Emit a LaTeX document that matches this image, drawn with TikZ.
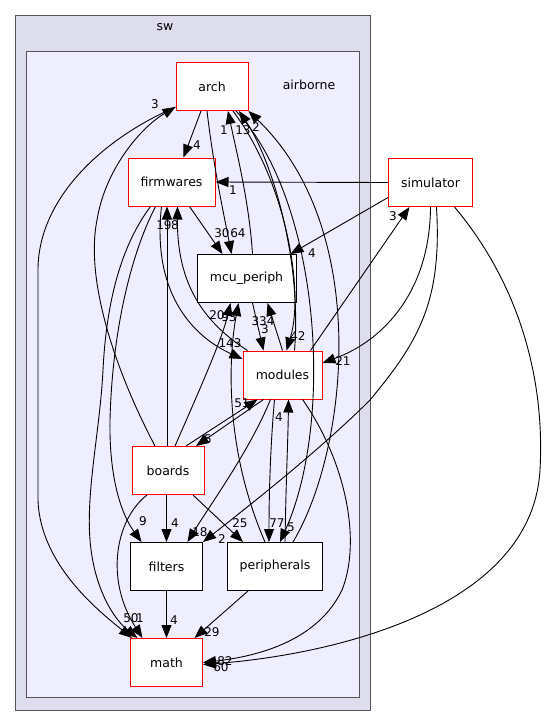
\documentclass[tikz,border=0pt]{standalone}
\usepackage{fontspec}
\setmainfont{DejaVu Sans}
\usetikzlibrary{arrows.meta}
\definecolor{swfill}{HTML}{DDDDEE}
\definecolor{abfill}{HTML}{EEEEFF}
\definecolor{swline}{HTML}{555555}
\begin{document}
\begin{tikzpicture}[x=1pt,y=-1pt,
  dirbox/.style={draw=black,fill=white,line width=1pt,minimum width=#1,minimum height=48pt,inner sep=0pt,font=\fontsize{12.5}{14}\selectfont},
  rdirbox/.style={dirbox=#1,draw=red},
  lbl/.style={font=\fontsize{12}{13}\selectfont,inner sep=0pt},
  clab/.style={font=\fontsize{12.5}{14}\selectfont,inner sep=0pt},
  dep/.style={line width=0.9pt,-{Triangle[length=13pt,width=10pt]}},
]
\useasboundingbox (0,0) rectangle (544,724);
\fill[white] (0,0) rectangle (544,724);
% clusters
\draw[fill=swfill,draw=swline,line width=1pt] (15.5,15.5) rectangle (370.5,710);
\node[clab] (swlab) at (165,27) {sw};
\draw[fill=abfill,draw=swline,line width=1pt] (26.5,51.5) rectangle (359.5,697);
\node[clab] (ablab) at (309,85) {airborne};
% nodes
\node[rdirbox=72pt] (arch) at (212,86.5) {arch};
\node[rdirbox=87pt] (firmwares) at (171.5,182) {firmwares};
\node[dirbox=99pt] (mcu) at (246.5,278.5) {mcu\_periph};
\node[rdirbox=79pt] (modules) at (282.5,375) {modules};
\node[rdirbox=72pt] (boards) at (168,470.5) {boards};
\node[dirbox=72pt] (filters) at (166.5,566.5) {filters};
\node[dirbox=95pt] (periph) at (275,566.5) {peripherals};
\node[rdirbox=72pt] (math) at (166.5,662.5) {math};
\node[rdirbox=84pt] (sim) at (430.5,182.5) {simulator};
% edges
\draw[dep] ([xshift=-11pt]arch.south) -- ([xshift=12pt]firmwares.north);
\node[lbl] (l1) at (197,145) {4};
\draw[dep] ([xshift=18pt]firmwares.south) -- ([xshift=-24pt]mcu.north);
\node[lbl] (l2) at (222,233) {30};
\draw[dep] ([xshift=-5pt]arch.south) .. controls (214,170) and (224,215) .. ([xshift=-15pt]mcu.north);
\node[lbl] (l3) at (238,233) {64};
\draw[dep] ([xshift=6pt]mcu.north) .. controls (249,200) and (236,150) .. ([xshift=16pt]arch.south);
\node[lbl] (l4) at (224,130) {1};
\draw[dep] ([xshift=12pt]modules.north) .. controls (302,260) and (272,160) .. ([xshift=27pt]arch.south);
\node[lbl] (l5) at (243,130) {13};
\draw[dep] ([xshift=21pt]arch.south) .. controls (285,180) and (305,290) .. ([xshift=4pt]modules.north);
\node[lbl] (l6) at (298,336) {42};
\draw[dep] ([xshift=24pt]arch.south) .. controls (320,200) and (335,420) .. ([xshift=5pt]periph.north);
\node[lbl] (l7) at (291,527) {5};
\draw[dep] ([xshift=18pt]periph.north) .. controls (348,450) and (372,230) .. (arch.south east);
\node[lbl] (l8) at (256,127) {2};
\draw[dep] (sim.west) -- (firmwares.east);
\node[lbl] (l9) at (233,190) {1};
\draw[dep] ([yshift=-15pt]sim.west) -- ([xshift=44pt]mcu.north);
\node[lbl] (l10) at (312,253) {4};
\draw[dep] ([xshift=28pt]modules.north) -- ([xshift=-21pt]sim.south);
\node[lbl] (l11) at (393,216) {3};
\draw[dep] (sim.south) .. controls (430,290) and (385,340) .. ([yshift=12pt]modules.east);
\node[lbl] (l12) at (343,361) {21};
\draw[dep] ([xshift=6pt]sim.south) .. controls (442,300) and (420,340) .. (370,400) .. controls (320,450) and (250,505) .. (filters.north east);
\node[lbl] (l13) at (222,539) {2};
\draw[dep] ([xshift=24pt]sim.south) .. controls (520,285) and (545,380) .. (540,470) .. controls (532,610) and (330,655) .. ([yshift=-2pt]math.east);
\node[lbl] (l14) at (225,661) {82};
\draw[dep] ([xshift=20pt]modules.south) .. controls (345,460) and (362,540) .. (342,590) .. controls (318,640) and (260,656) .. (math.east);
\node[lbl] (l15) at (221,667) {60};
\draw[dep] ([yshift=4pt]arch.south west) .. controls (100,140) and (38,200) .. (38,270) -- (38,500) .. controls (40,565) and (100,612) .. ([xshift=-34.5pt]math.north);
\node[lbl] (l16) at (131,618) {50};
\draw[dep] ([xshift=-13pt]boards.north) .. controls (115,370) and (85,280) .. (97,220) .. controls (105,170) and (140,128) .. ([yshift=4pt]arch.south west);
\node[lbl] (l17) at (155,104) {3};
\draw[dep] ([xshift=-21pt]firmwares.south) .. controls (118,250) and (106,310) .. (103,370) .. controls (100,430) and (86,490) .. (90,540) .. controls (94,590) and (115,620) .. ([xshift=-29pt]math.north);
\node[lbl] (l18) at (140,618) {1};
\draw[dep] ([xshift=-16pt]firmwares.south) .. controls (128,260) and (112,340) .. (110,420) .. controls (109,480) and (122,515) .. ([xshift=-25pt]filters.north);
\node[lbl] (l19) at (143,521) {9};
\draw[dep] ([xshift=-10pt]firmwares.south) .. controls (152,290) and (190,335) .. ([yshift=16pt]modules.west);
\node[lbl] (l20) at (230,343) {143};
\draw[dep] ([xshift=-35pt]modules.north) .. controls (200,320) and (177,280) .. ([xshift=6pt]firmwares.south);
\node[lbl] (l21) at (175,225) {8};
\draw[dep] ([xshift=-1pt]boards.north) -- ([xshift=-4.5pt]firmwares.south);
\node[lbl] (l22) at (164,225) {19};
\draw[dep] ([xshift=7pt]boards.north) .. controls (195,400) and (222,340) .. ([xshift=-16pt]mcu.south);
\node[lbl] (l23) at (217,315) {20};
\draw[dep] ([xshift=-10pt]periph.north) .. controls (225,450) and (228,360) .. ([xshift=-8pt]mcu.south);
\node[lbl] (l24) at (229,317) {93};
\draw[dep] ([xshift=6pt]mcu.south) -- ([xshift=-19pt]modules.north);
\node[lbl] (l25) at (265,329) {3};
\draw[dep] (modules.north) -- ([xshift=21pt]mcu.south);
\node[lbl] (l26) at (263,321) {334};
\draw[dep] ([xshift=18pt]boards.north) -- ([xshift=-25pt]modules.south);
\node[lbl] (l27) at (242,403) {51};
\draw[dep] ([xshift=-19pt]modules.south) -- ([xshift=28pt]boards.north);
\node[lbl] (l28) at (208,439) {5};
\draw[dep] ([xshift=-12pt]modules.south) .. controls (250,450) and (210,505) .. ([xshift=21pt]filters.north);
\node[lbl] (l29) at (200,532) {18};
\draw[dep] ([xshift=-8pt]modules.south) .. controls (270,450) and (269,500) .. ([xshift=-6pt]periph.north);
\node[lbl] (l30) at (277,523) {77};
\draw[dep] ([xshift=10pt]periph.north) .. controls (286,480) and (288,440) .. ([xshift=6pt]modules.south);
\node[lbl] (l31) at (279,417) {4};
\draw[dep] ([xshift=-1.5pt]boards.south) -- (filters.north);
\node[lbl] (l32) at (175,523) {4};
\draw[dep] ([xshift=25pt]boards.south) -- ([xshift=-32pt]periph.north);
\node[lbl] (l33) at (240,523) {25};
\draw[dep] ([xshift=-21pt]boards.south) .. controls (115,520) and (105,580) .. ([xshift=-24pt]math.north);
\draw[dep] (filters.south) -- (math.north);
\node[lbl] (l34) at (174,620) {4};
\draw[dep] ([xshift=-27pt]periph.south) -- ([xshift=28pt]math.north);
\node[lbl] (l35) at (212,632) {29};
\end{tikzpicture}
\end{document}
